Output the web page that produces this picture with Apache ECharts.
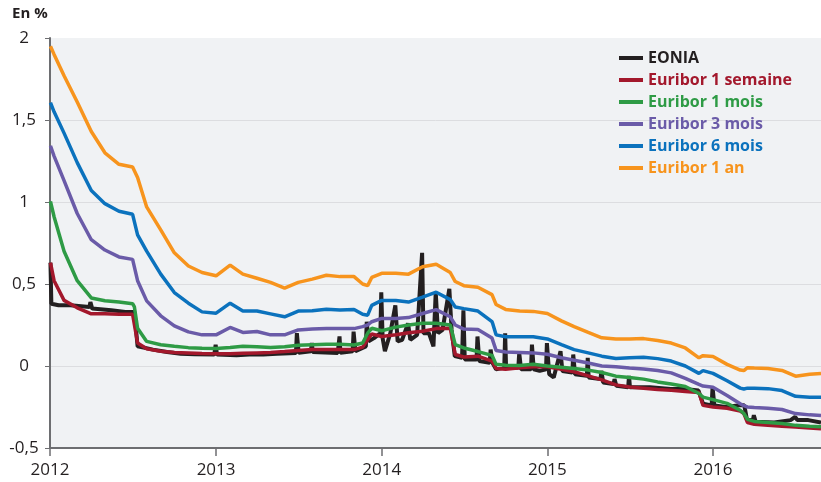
<!DOCTYPE html>
<html>
<head>
<meta charset="utf-8">
<script src="https://cdn.jsdelivr.net/npm/echarts@6/dist/echarts.min.js"></script>
<style>
  html, body { margin: 0; padding: 0; background: #fff; }
  #chart { width: 821px; height: 482px; }
</style>
</head>
<body>
<div id="chart"></div>
<script>
// dates shared by the five Euribor series
var dates = [
  '2012-01-02', '2012-01-10', '2012-02-01', '2012-03-01', '2012-04-01', '2012-05-01', '2012-06-01', '2012-07-01', '2012-07-05', '2012-07-12',
  '2012-08-01', '2012-09-01', '2012-10-01', '2012-11-01', '2012-12-01', '2013-01-01', '2013-02-01', '2013-03-01', '2013-04-01', '2013-05-01',
  '2013-06-01', '2013-07-01', '2013-08-01', '2013-09-01', '2013-10-01', '2013-11-01', '2013-11-20', '2013-12-01', '2013-12-10', '2014-01-01',
  '2014-02-01', '2014-03-01', '2014-04-01', '2014-05-01', '2014-06-01', '2014-06-04', '2014-06-12', '2014-07-01', '2014-08-01', '2014-09-01',
  '2014-09-03', '2014-09-10', '2014-10-01', '2014-11-01', '2014-12-01', '2015-01-01', '2015-02-01', '2015-03-01', '2015-04-01', '2015-05-01',
  '2015-06-01', '2015-07-01', '2015-08-01', '2015-09-01', '2015-10-01', '2015-11-01', '2015-12-01', '2015-12-03', '2015-12-10', '2016-01-01',
  '2016-02-01', '2016-03-01', '2016-03-09', '2016-03-17', '2016-04-01', '2016-05-01', '2016-06-01', '2016-07-01', '2016-08-01', '2016-08-26'
]

var euribor1an = [
  1.95, 1.90, 1.77, 1.61, 1.43, 1.30, 1.23, 1.213, 1.21, 1.15,
  0.97, 0.83, 0.69, 0.61, 0.57, 0.55, 0.615, 0.56, 0.535, 0.51,
  0.475, 0.51, 0.53, 0.553, 0.545, 0.545, 0.50, 0.49, 0.54, 0.565,
  0.565, 0.56, 0.605, 0.62, 0.57, 0.555, 0.515, 0.49, 0.48, 0.435,
  0.425, 0.375, 0.345, 0.335, 0.333, 0.32, 0.275, 0.24, 0.205, 0.172,
  0.165, 0.164, 0.167, 0.155, 0.14, 0.11, 0.05, 0.06, 0.063, 0.058,
  0.01, -0.025, -0.028, -0.01, -0.012, -0.015, -0.027, -0.062, -0.05, -0.045
]

var euribor6m = [
  1.606, 1.55, 1.42, 1.24, 1.07, 0.99, 0.944, 0.925, 0.92, 0.80,
  0.70, 0.56, 0.448, 0.383, 0.33, 0.322, 0.383, 0.336, 0.335, 0.318,
  0.30, 0.335, 0.337, 0.346, 0.342, 0.345, 0.315, 0.31, 0.37, 0.40,
  0.40, 0.39, 0.42, 0.45, 0.405, 0.395, 0.36, 0.35, 0.335, 0.27,
  0.255, 0.19, 0.178, 0.178, 0.178, 0.165, 0.13, 0.10, 0.08, 0.06,
  0.046, 0.05, 0.053, 0.045, 0.03, 0.0, -0.045, -0.035, -0.028, -0.045,
  -0.09, -0.135, -0.14, -0.135, -0.135, -0.138, -0.15, -0.185, -0.19, -0.19
]

var euribor3m = [
  1.343, 1.28, 1.13, 0.93, 0.77, 0.707, 0.665, 0.65, 0.645, 0.52,
  0.397, 0.306, 0.245, 0.208, 0.19, 0.19, 0.235, 0.205, 0.21, 0.19,
  0.19, 0.22, 0.225, 0.228, 0.228, 0.228, 0.24, 0.25, 0.27, 0.29,
  0.29, 0.295, 0.32, 0.344, 0.30, 0.29, 0.25, 0.225, 0.222, 0.17,
  0.16, 0.095, 0.085, 0.083, 0.08, 0.072, 0.05, 0.035, 0.018, 0.0,
  -0.005, -0.012, -0.018, -0.028, -0.042, -0.075, -0.112, -0.118, -0.122, -0.13,
  -0.18, -0.23, -0.242, -0.25, -0.253, -0.258, -0.265, -0.29, -0.298, -0.302
]

var euribor1m = [
  1.004, 0.91, 0.70, 0.52, 0.415, 0.398, 0.39, 0.38, 0.36, 0.23,
  0.15, 0.13, 0.12, 0.112, 0.108, 0.107, 0.113, 0.12, 0.118, 0.113,
  0.118, 0.127, 0.13, 0.133, 0.133, 0.128, 0.14, 0.2, 0.23, 0.215,
  0.237, 0.25, 0.26, 0.26, 0.25, 0.24, 0.13, 0.11, 0.088, 0.065,
  0.06, 0.01, 0.005, 0.003, 0.01, 0.0, -0.008, -0.015, -0.025, -0.04,
  -0.062, -0.07, -0.08, -0.097, -0.11, -0.125, -0.168, -0.175, -0.19, -0.205,
  -0.228, -0.27, -0.29, -0.325, -0.338, -0.345, -0.351, -0.362, -0.367, -0.37
]

var euribor1s = [
  0.63, 0.52, 0.40, 0.355, 0.318, 0.318, 0.316, 0.316, 0.31, 0.14,
  0.105, 0.09, 0.082, 0.079, 0.076, 0.075, 0.075, 0.078, 0.08, 0.082,
  0.088, 0.095, 0.1, 0.1, 0.1, 0.1, 0.115, 0.16, 0.195, 0.18,
  0.19, 0.203, 0.212, 0.228, 0.23, 0.225, 0.07, 0.055, 0.06, 0.03,
  0.025, -0.015, -0.02, -0.01, -0.005, -0.005, -0.02, -0.035, -0.06, -0.085,
  -0.115, -0.128, -0.135, -0.143, -0.148, -0.155, -0.162, -0.165, -0.24, -0.25,
  -0.258, -0.275, -0.29, -0.345, -0.355, -0.362, -0.367, -0.372, -0.378, -0.382
]

// EONIA has its own dates because of the month-end spikes
var eoniaDates = [
  '2012-01-02', '2012-01-04', '2012-01-20', '2012-02-15', '2012-03-28', '2012-03-30', '2012-04-03', '2012-05-15', '2012-06-15', '2012-07-05',
  '2012-07-12', '2012-08-15', '2012-09-15', '2012-10-15', '2012-11-15', '2012-12-28', '2012-12-31', '2013-01-03', '2013-02-15', '2013-03-15',
  '2013-04-15', '2013-05-15', '2013-06-26', '2013-06-28', '2013-07-02', '2013-07-29', '2013-07-31', '2013-08-02', '2013-09-26', '2013-09-30',
  '2013-10-02', '2013-10-29', '2013-10-31', '2013-11-04', '2013-11-27', '2013-11-29', '2013-12-03', '2013-12-15', '2013-12-29', '2013-12-31',
  '2014-01-03', '2014-01-08', '2014-01-20', '2014-01-31', '2014-02-05', '2014-02-15', '2014-02-28', '2014-03-05', '2014-03-20', '2014-03-31',
  '2014-04-03', '2014-04-15', '2014-04-25', '2014-04-30', '2014-05-05', '2014-05-15', '2014-05-30', '2014-06-04', '2014-06-11', '2014-06-27',
  '2014-06-30', '2014-07-03', '2014-07-29', '2014-07-31', '2014-08-04', '2014-08-27', '2014-08-29', '2014-09-02', '2014-09-10', '2014-09-28',
  '2014-09-30', '2014-10-02', '2014-10-29', '2014-10-31', '2014-11-04', '2014-11-26', '2014-11-28', '2014-12-02', '2014-12-15', '2014-12-29',
  '2014-12-31', '2015-01-05', '2015-01-15', '2015-01-30', '2015-02-03', '2015-02-25', '2015-02-27', '2015-03-03', '2015-03-29', '2015-03-31',
  '2015-04-02', '2015-04-28', '2015-04-30', '2015-05-04', '2015-05-27', '2015-05-29', '2015-06-02', '2015-06-28', '2015-06-30', '2015-07-02',
  '2015-08-15', '2015-09-30', '2015-10-30', '2015-11-30', '2015-12-03', '2015-12-10', '2015-12-29', '2015-12-31', '2016-01-04', '2016-01-29',
  '2016-02-29', '2016-03-10', '2016-03-16', '2016-03-29', '2016-03-31', '2016-04-04', '2016-05-15', '2016-06-20', '2016-06-30', '2016-07-05',
  '2016-07-29', '2016-08-26'
]

var eoniaValues = [
  0.63, 0.38, 0.37, 0.37, 0.36, 0.39, 0.35, 0.34, 0.33, 0.33,
  0.12, 0.10, 0.085, 0.075, 0.072, 0.07, 0.13, 0.07, 0.065, 0.07,
  0.07, 0.075, 0.08, 0.20, 0.08, 0.09, 0.14, 0.085, 0.08, 0.18,
  0.08, 0.09, 0.21, 0.09, 0.12, 0.27, 0.15, 0.17, 0.20, 0.45,
  0.17, 0.09, 0.20, 0.37, 0.15, 0.16, 0.26, 0.16, 0.19, 0.69,
  0.20, 0.20, 0.12, 0.45, 0.20, 0.22, 0.47, 0.22, 0.06, 0.05,
  0.34, 0.04, 0.04, 0.18, 0.03, 0.02, 0.10, 0.02, -0.02, -0.01,
  0.20, -0.01, -0.01, 0.08, -0.02, -0.02, 0.13, -0.02, -0.03, -0.02,
  0.14, -0.05, -0.07, 0.09, -0.03, -0.04, 0.07, -0.05, -0.06, 0.05,
  -0.07, -0.08, -0.03, -0.10, -0.11, -0.08, -0.12, -0.13, -0.06, -0.13,
  -0.13, -0.14, -0.14, -0.15, -0.16, -0.23, -0.24, -0.13, -0.24, -0.25,
  -0.24, -0.24, -0.33, -0.33, -0.30, -0.34, -0.345, -0.33, -0.31, -0.33,
  -0.33, -0.345
]

var yTicks = [-0.5, 0, 0.5, 1, 1.5, 2]

function pairs(xs, ys) {
  return xs.map(function (d, i) { return [d, ys[i]] })
}

var names = ['EONIA', 'Euribor 1 semaine', 'Euribor 1 mois', 'Euribor 3 mois', 'Euribor 6 mois', 'Euribor 1 an']
var colors = ['#231f20', '#a3182c', '#2e9b45', '#6a5ba8', '#0b72bd', '#f7941d']
var seriesData = [
  pairs(eoniaDates, eoniaValues),
  pairs(dates, euribor1s),
  pairs(dates, euribor1m),
  pairs(dates, euribor3m),
  pairs(dates, euribor6m),
  pairs(dates, euribor1an)
]

var fontName = 'Open Sans'
var yearMs = 365.25 * 24 * 3600 * 1000

var option = {
  animation: false,
  backgroundColor: '#fff',
  title: {
    text: 'En %',
    left: 12,
    top: 6,
    padding: 0,
    textStyle: { fontFamily: fontName, fontSize: 15, fontWeight: 'bold', color: '#231f20' }
  },
  legend: {
    orient: 'vertical',
    left: 619,
    top: 50,
    padding: 0,
    itemWidth: 24,
    itemHeight: 4,
    itemGap: 6,
    icon: 'rect',
    textStyle: { fontFamily: fontName, fontSize: 16, fontWeight: 'bold', lineHeight: 16 },
    data: names.map(function (n, i) {
      return { name: n, textStyle: { color: colors[i] } }
    })
  },
  grid: {
    left: 50,
    right: 0,
    top: 38,
    bottom: 34,
    show: true,
    backgroundColor: '#f0f2f4',
    borderWidth: 0
  },
  xAxis: {
    type: 'time',
    min: '2012-01-01',
    max: '2016-08-26',
    minInterval: yearMs,
    maxInterval: yearMs,
    axisLine: { onZero: false, lineStyle: { color: '#6d6e71', width: 2 } },
    axisTick: { show: true, length: 8, lineStyle: { color: '#6d6e71', width: 1.5 } },
    axisLabel: {
      formatter: '{yyyy}',
      fontFamily: fontName,
      fontSize: 17,
      color: '#231f20',
      margin: 14,
      showMaxLabel: false
    },
    splitLine: { show: false }
  },
  yAxis: {
    type: 'value',
    min: yTicks[0],
    max: yTicks[yTicks.length - 1],
    interval: 0.5,
    axisLine: { show: true, lineStyle: { color: '#6d6e71', width: 2 } },
    axisTick: { show: true, length: 5, lineStyle: { color: '#6d6e71' } },
    axisLabel: {
      fontFamily: fontName,
      fontSize: 17,
      color: '#231f20',
      margin: 26,
      align: 'center',
      padding: [0, 0, 4, 0],
      formatter: function (v) { return String(v).replace('.', ',') }
    },
    splitLine: { show: true, showMinLine: false, showMaxLine: false, lineStyle: { color: '#dcdde0', width: 1 } }
  },
  series: names.map(function (n, i) {
    return {
      name: n,
      type: 'line',
      data: seriesData[i],
      showSymbol: false,
      symbol: 'none',
      color: colors[i],
      lineStyle: { color: colors[i], width: i === 0 ? 4 : 3.5 }
    }
  })
}

var chart = echarts.init(document.getElementById('chart'))
chart.setOption(option)
</script>
</body>
</html>
